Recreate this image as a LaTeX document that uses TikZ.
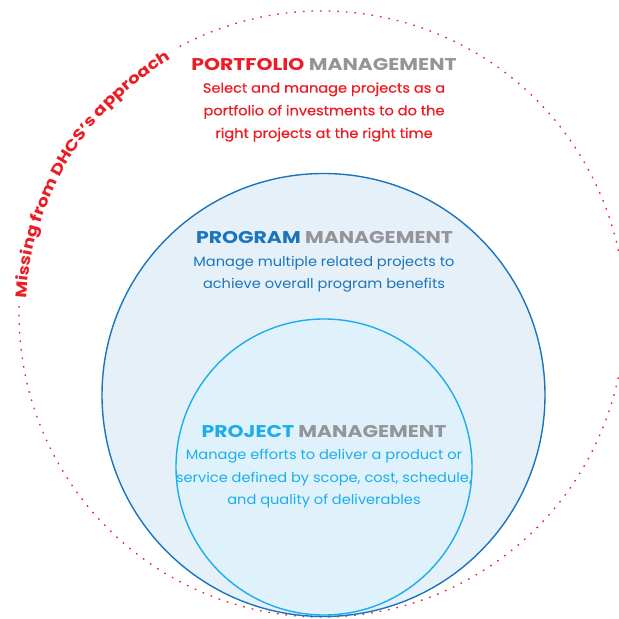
\documentclass[tikz,border=0pt]{standalone}
\usepackage{fontspec}
\setmainfont{Poppins}
\newfontfamily\headfont{Poppins}[FakeStretch=1.2]
\newfontfamily\bodyfont{Poppins}[FakeStretch=1.08]
\newfontfamily\medfont{Poppins}[FakeStretch=1.08, FakeBold=0.7]
\usetikzlibrary{decorations.text}
\definecolor{pfred}{HTML}{ED1C24}
\definecolor{mgray}{HTML}{939598}
\definecolor{pgblue}{HTML}{1B75BC}
\definecolor{pjblue}{HTML}{1CAEEC}
\definecolor{pgfill}{HTML}{E5F0F8}
\definecolor{pjfill}{HTML}{DFF2FB}
\tikzset{
  head/.style={anchor=base, inner sep=0pt, font=\headfont\fontsize{17}{20}\selectfont\bfseries},
  body/.style={anchor=base, inner sep=0pt, font=\bodyfont\fontsize{13.5}{16}\selectfont},
  medbody/.style={anchor=base, inner sep=0pt, font=\medfont\fontsize{13.5}{16}\selectfont},
  dotline/.style={draw=pfred, line width=1.3pt, dash pattern=on 1.6pt off 7pt}
}
\begin{document}
\begin{tikzpicture}[x=1pt,y=1pt]
\useasboundingbox (0,0) rectangle (619,619);
\clip (0,0) rectangle (619,619);
% outer dotted circle (portfolio)
\coordinate (oc) at (322,305);
\draw[dotline] (oc) ++(118:303) arc[start angle=118, end angle=-182, radius=303];
\path[decorate, decoration={text along path, text align=left,
  text={|\headfont\fontsize{15.3}{18}\selectfont\bfseries\color{pfred}|Missing from DHCS’s approach}}]
  (oc) ++(177:296) arc[start angle=177, end angle=105, radius=296];
% program circle
\node[circle, draw=pgblue, fill=pgfill, line width=1.4pt, minimum size=443pt, inner sep=0pt] (prog) at (323.5,224) {};
% project circle
\node[circle, draw=pjblue, fill=pjfill, line width=1.4pt, minimum size=296pt, inner sep=0pt] (proj) at (324,152) {};
% portfolio texts
\node[head] (pfh) at (324,548.3) {\textcolor{pfred}{PORTFOLIO} \textcolor{mgray}{MANAGEMENT}};
\node[medbody, text=pfred] (pf1) at (324,526.3) {Select and manage projects as a};
\node[medbody, text=pfred] (pf2) at (324,503.7) {portfolio of investments to do the};
\node[medbody, text=pfred] (pf3) at (324,481) {right projects at the right time};
% program texts
\node[head] (pgh) at (324.5,375.7) {\textcolor{pgblue}{PROGRAM} \textcolor{mgray}{MANAGEMENT}};
\node[body, text=pgblue] (pg1) at (324,352.3) {Manage multiple related projects to};
\node[body, text=pgblue] (pg2) at (324,330.7) {achieve overall program benefits};
% project texts
\node[head] (pjh) at (324,181.3) {\textcolor{pjblue}{PROJECT} \textcolor{mgray}{MANAGEMENT}};
\node[body, text=pjblue] (pj1) at (324,159) {Manage efforts to deliver a product or};
\node[body, text=pjblue] (pj2) at (324,136.3) {service defined by scope, cost, schedule,};
\node[body, text=pjblue] (pj3) at (324,114.7) {and quality of deliverables};
\end{tikzpicture}
\end{document}
